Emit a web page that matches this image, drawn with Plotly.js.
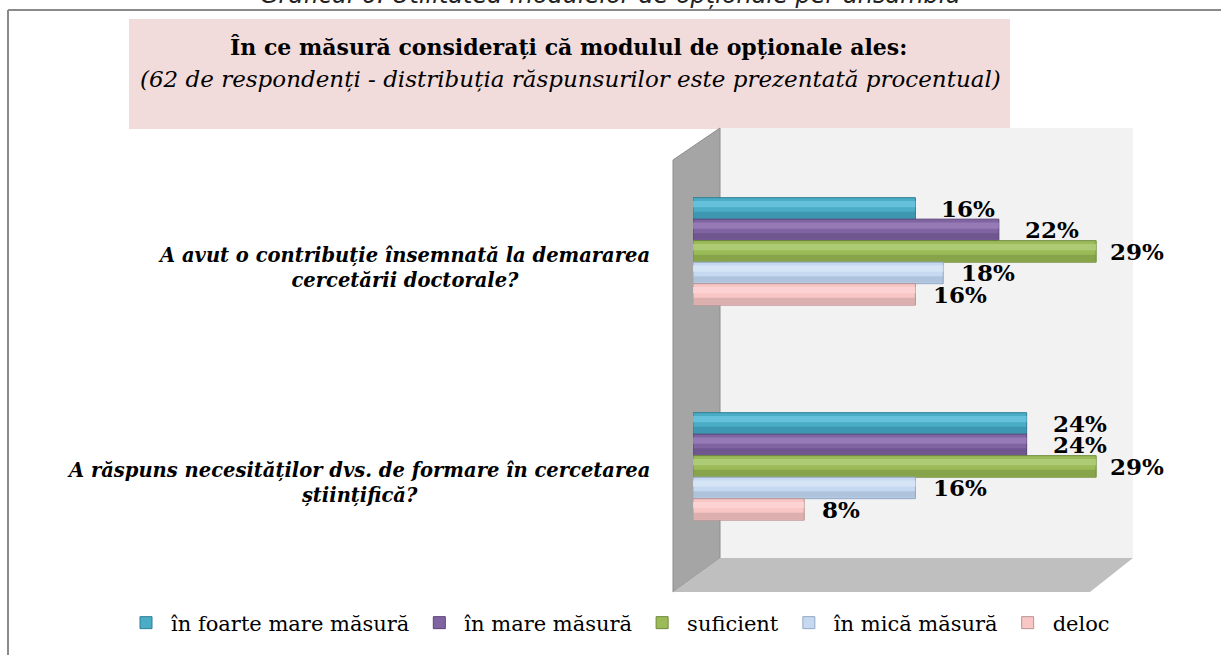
<!DOCTYPE html>
<html>
<head>
<meta charset="utf-8">
<script src="https://cdn.plot.ly/plotly-3.0.1.min.js"></script>
<style>
  body { margin: 0; background: #fff; }
  #plot { width: 1221px; height: 655px; }
</style>
</head>
<body>
<div id="plot"></div>
<script>
// questions (y categories)
var categories = [
  "A avut o contribuție însemnată la demararea<br>cercetării doctorale?",
  "A răspuns necesităților dvs. de formare în cercetarea<br>științifică?"
];

// answer options (legend)
var seriesNames = ["în foarte mare măsură", "în mare măsură", "suficient", "în mică măsură", "deloc"];

// percentages per answer, one value per question
var foarteMare = [16, 24];
var mare = [22, 24];
var suficient = [29, 29];
var mica = [18, 16];
var deloc = [16, 8];

var values = [foarteMare, mare, suficient, mica, deloc];

// colours: mid, dark edge, light highlight
var midColors = ["#4bacc6", "#8064a2", "#9bbb59", "#c6d9f1", "#f7c6c5"];
var darkColors = ["#2f7f95", "#5a4478", "#6f8a3a", "#93a8c4", "#b99594"];
var lightColors = ["#6cc7e0", "#9a80bc", "#b2d07a", "#d9e7f8", "#fcd6d5"];
var labelShift = [24, 24, 12, 16, 16];

// plot area in pixels
var W = 1221, H = 655;
var L = 693, R = 1133, T = 128, B = 558;
function px(x) { return (x - L) / (R - L); }
function py(y) { return (B - y) / (B - T); }

var w = 0.1;   // bar thickness in category units
var serif = "'DejaVu Serif', 'Liberation Serif', serif";

var data = [];
var annotations = [];

values.forEach(function (vals, s) {
  var off = (s - 2.5) * w;
  // main bar (shown in legend)
  data.push({
    type: "bar", orientation: "h",
    x: vals, y: categories,
    name: seriesNames[s],
    width: w, offset: off,
    marker: { color: midColors[s], line: { color: darkColors[s], width: 1 } },
    hoverinfo: "x+name"
  });
  // darker lower strip
  data.push({
    type: "bar", orientation: "h",
    x: vals, y: categories,
    width: w * 0.3, offset: off + w * 0.66,
    marker: { color: darkColors[s], opacity: 0.45 },
    showlegend: false, hoverinfo: "skip"
  });
  // highlight strip
  data.push({
    type: "bar", orientation: "h",
    x: vals, y: categories,
    width: w * 0.3, offset: off + w * 0.15,
    marker: { color: lightColors[s], opacity: 0.8 },
    showlegend: false, hoverinfo: "skip"
  });
  vals.forEach(function (v, g) {
    annotations.push({
      xref: "x", yref: "y",
      x: v, y: g + (s - 2) * w,
      text: "<b>" + v + "%</b>",
      showarrow: false,
      xanchor: "left", yanchor: "middle",
      xshift: labelShift[s],
      font: { family: "'DejaVu Serif', serif", size: 23, color: "#000" }
    });
  });
});

// question labels
categories.forEach(function (c, g) {
  annotations.push({
    xref: "paper", yref: "y",
    x: px(652), y: g,
    text: "<b><i>" + c + "</i></b>",
    showarrow: false,
    xanchor: "right", yanchor: "middle", align: "center",
    yshift: -17,
    font: { family: serif, size: 19.5, color: "#000" }
  });
});

// titles
annotations.push({
  xref: "paper", yref: "paper",
  x: px(568), y: py(47),
  text: "<b>În ce măsură considerați că modulul de opționale ales:</b>",
  showarrow: false, xanchor: "center", yanchor: "middle",
  font: { family: serif, size: 22, color: "#000" }
});
annotations.push({
  xref: "paper", yref: "paper",
  x: px(570), y: py(79),
  text: "<i>(62 de respondenți - distribuția răspunsurilor este prezentată procentual)</i>",
  showarrow: false, xanchor: "center", yanchor: "middle",
  font: { family: serif, size: 23, color: "#000" }
});
// caption cut off at the top of the page
annotations.push({
  xref: "paper", yref: "paper",
  x: px(610), y: py(10),
  yshift: -1,
  text: "<i>Graficul 6. Utilitatea modulelor de opționale per ansamblu</i>",
  showarrow: false, xanchor: "center", yanchor: "bottom",
  font: { family: "'DejaVu Sans', sans-serif", size: 24, color: "#222" }
});

var shapes = [
  // title box
  { type: "rect", xref: "paper", yref: "paper", layer: "below",
    x0: px(129), x1: px(1010), y0: py(129), y1: py(19),
    fillcolor: "#f2dcdb", line: { width: 0 } },
  // back wall
  { type: "rect", xref: "paper", yref: "paper", layer: "below",
    x0: px(720), x1: px(1133), y0: py(558), y1: py(128),
    fillcolor: "#f2f2f2", line: { width: 0 } },
  // side wall
  { type: "path", xref: "paper", yref: "paper", layer: "below",
    path: "M" + px(673) + "," + py(160) + " L" + px(720) + "," + py(128) +
          " L" + px(720) + "," + py(558) + " L" + px(673) + "," + py(592) + " Z",
    fillcolor: "#a5a5a5", line: { color: "#8c8c8c", width: 1 } },
  // floor
  { type: "path", xref: "paper", yref: "paper", layer: "below",
    path: "M" + px(673) + "," + py(592) + " L" + px(720) + "," + py(558) +
          " L" + px(1133) + "," + py(558) + " L" + px(1090) + "," + py(592) + " Z",
    fillcolor: "#bfbfbf", line: { width: 0 } },
  // frame
  { type: "line", xref: "paper", yref: "paper",
    x0: px(8), x1: px(W), y0: py(10), y1: py(10),
    line: { color: "#8a8a8a", width: 2 } },
  { type: "line", xref: "paper", yref: "paper",
    x0: px(8), x1: px(8), y0: py(10), y1: py(H),
    line: { color: "#8a8a8a", width: 2 } }
];

var layout = {
  width: W, height: H,
  margin: { l: L, r: W - R, t: T, b: H - B, autoexpand: false },
  paper_bgcolor: "#fff",
  plot_bgcolor: "rgba(0,0,0,0)",
  barmode: "overlay",
  showlegend: true,
  legend: {
    orientation: "h",
    x: px(121), xanchor: "left",
    y: py(623), yanchor: "middle",
    font: { family: serif, size: 21, color: "#000" },
    itemwidth: 40,
    bgcolor: "rgba(0,0,0,0)"
  },
  xaxis: { range: [0, 31.65], visible: false, fixedrange: true },
  yaxis: { type: "category", range: [1.426, -0.574], visible: false, fixedrange: true },
  annotations: annotations,
  shapes: shapes
};

Plotly.newPlot("plot", data, layout, { displayModeBar: false, staticPlot: true });
</script>
</body>
</html>
